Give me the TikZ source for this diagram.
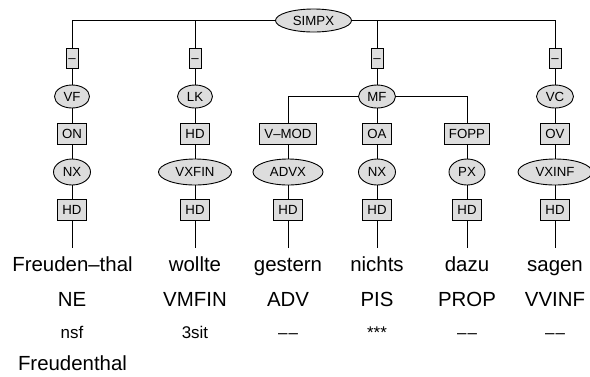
\documentclass[tikz,border=0pt]{standalone}
\usepackage{fontspec}
\setmainfont{Liberation Sans}
\usetikzlibrary{shapes.geometric}
\newcommand{\ddash}{–\kern1bp–}
\begin{document}
\begin{tikzpicture}[x=1bp,y=-1bp,
  lab/.style={font=\fontsize{13.3}{15}\selectfont, text height=9.5bp, text depth=0bp, fill=gray!27, draw=black, line width=0.9bp},
  ell/.style={lab, ellipse, inner sep=0pt, minimum height=23bp},
  ellb/.style={lab, ellipse, inner sep=0pt, minimum height=26bp},
  box/.style={lab, rectangle, inner xsep=4.5bp, inner ysep=0pt, minimum height=21bp},
  dbox/.style={lab, rectangle, inner sep=0pt, minimum width=12bp, minimum height=20bp},
  word/.style={font=\fontsize{20.5}{24}\selectfont, anchor=base, inner sep=0pt},
  small/.style={font=\fontsize{17}{20}\selectfont, anchor=base, inner sep=0pt},
  edge/.style={line width=0.9bp, black}
]
\useasboundingbox (0,0) rectangle (590,376);

% root
\node[ell, minimum width=76bp] (simpx) at (313.5,20.5) {SIMPX};

% dash boxes
\node[dbox] (d1) at (72,58) {–};
\node[dbox] (d2) at (195,58) {–};
\node[dbox] (d3) at (377,58) {–};
\node[dbox] (d4) at (555,58) {–};

% fields
\node[ell, minimum width=35bp] (vf) at (72,96.5) {VF};
\node[ell, minimum width=35bp] (lk) at (195,96.5) {LK};
\node[ell, minimum width=37bp] (mf) at (377,96.5) {MF};
\node[ell, minimum width=37bp] (vc) at (555,96.5) {VC};

% functions
\node[box] (on) at (72,134) {ON};
\node[box] (hdA) at (195,134) {HD};
\node[box] (vmod) at (288,134) {V–MOD};
\node[box] (oa) at (377,134) {OA};
\node[box] (fopp) at (467,134) {FOPP};
\node[box] (ov) at (555,134) {OV};

% phrases
\node[ellb, minimum width=37bp] (nx1) at (72,172) {NX};
\node[ellb, minimum width=73bp] (vxfin) at (195,172) {VXFIN};
\node[ellb, minimum width=70bp] (advx) at (288,172) {ADVX};
\node[ellb, minimum width=37bp] (nx2) at (377,172) {NX};
\node[ellb, minimum width=36bp] (px) at (467,172) {PX};
\node[ellb, minimum width=74bp] (vxinf) at (555,172) {VXINF};

% heads
\node[box] (h1) at (72,210) {HD};
\node[box] (h2) at (195,210) {HD};
\node[box] (h3) at (288,210) {HD};
\node[box] (h4) at (377,210) {HD};
\node[box] (h5) at (467,210) {HD};
\node[box] (h6) at (555,210) {HD};

% stem ends
\coordinate (e1) at (72,248);
\coordinate (e2) at (195,248);
\coordinate (e3) at (288,248);
\coordinate (e4) at (377,248);
\coordinate (e5) at (467,248);
\coordinate (e6) at (555,248);

% connectors
\draw[edge] (simpx) -| (d1);
\draw[edge] (simpx) -| (d2);
\draw[edge] (simpx) -| (d3);
\draw[edge] (simpx) -| (d4);
\draw[edge] (d1) -- (vf);
\draw[edge] (d2) -- (lk);
\draw[edge] (d3) -- (mf);
\draw[edge] (d4) -- (vc);
\draw[edge] (vf) -- (on);
\draw[edge] (lk) -- (hdA);
\draw[edge] (mf) -| (vmod);
\draw[edge] (mf) -- (oa);
\draw[edge] (mf) -| (fopp);
\draw[edge] (vc) -- (ov);
\draw[edge] (on) -- (nx1);
\draw[edge] (hdA) -- (vxfin);
\draw[edge] (vmod) -- (advx);
\draw[edge] (oa) -- (nx2);
\draw[edge] (fopp) -- (px);
\draw[edge] (ov) -- (vxinf);
\draw[edge] (nx1) -- (h1);
\draw[edge] (vxfin) -- (h2);
\draw[edge] (advx) -- (h3);
\draw[edge] (nx2) -- (h4);
\draw[edge] (px) -- (h5);
\draw[edge] (vxinf) -- (h6);
\draw[edge] (h1) -- (e1);
\draw[edge] (h2) -- (e2);
\draw[edge] (h3) -- (e3);
\draw[edge] (h4) -- (e4);
\draw[edge] (h5) -- (e5);
\draw[edge] (h6) -- (e6);

% words
\node[word] (w1) at (72.5,271) {Freuden–thal};
\node[word] (w2) at (195,271) {wollte};
\node[word] (w3) at (288,271) {gestern};
\node[word] (w4) at (377,271) {nichts};
\node[word] (w5) at (467,271) {dazu};
\node[word] (w6) at (555,271) {sagen};

% POS
\node[word] (p1) at (72,306.5) {NE};
\node[word] (p2) at (195,306.5) {VMFIN};
\node[word] (p3) at (288,306.5) {ADV};
\node[word] (p4) at (377,306.5) {PIS};
\node[word] (p5) at (467,306.5) {PROP};
\node[word] (p6) at (555,306.5) {VVINF};

% morphology
\node[small] (m1) at (72,338) {nsf};
\node[small] (m2) at (195,338) {3sit};
\node[small] (m3) at (288,338) {\ddash};
\node[small] (m4) at (377,338) {***};
\node[small] (m5) at (467,338) {\ddash};
\node[small] (m6) at (555,338) {\ddash};

% lemma
\node[word] (l1) at (72.5,370.5) {Freudenthal};
\end{tikzpicture}
\end{document}
